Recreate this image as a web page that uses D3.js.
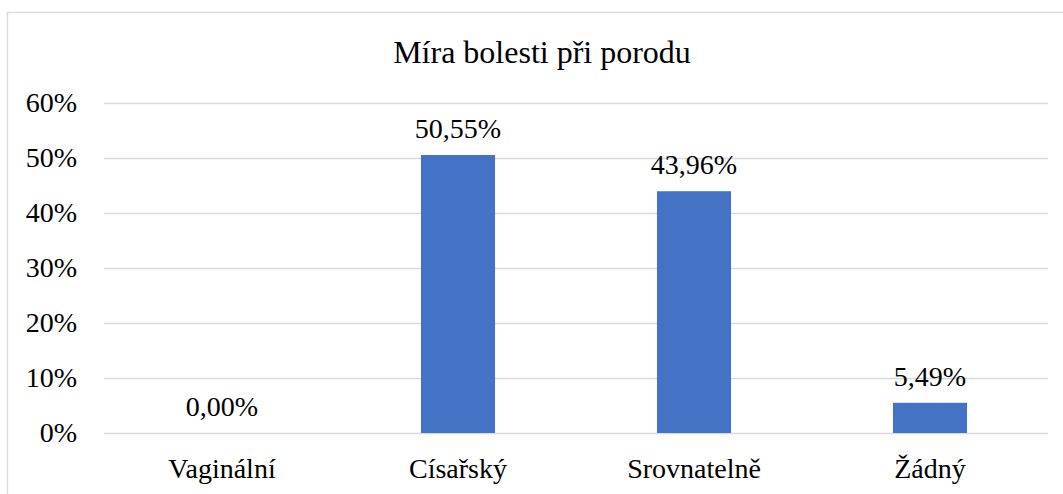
<!DOCTYPE html>
<html>
<head>
<meta charset="utf-8">
<script src="https://cdn.jsdelivr.net/npm/d3@7"></script>
<style>
  html, body { margin: 0; padding: 0; background: #fff; }
  svg { display: block; }
</style>
</head>
<body>
<svg id="chart"></svg>
<script>
// chart data
var categories = ["Vaginální", "Císařský", "Srovnatelně", "Žádný"]
var values = [0.0, 50.55, 43.96, 5.49]
var yTicks = [0, 10, 20, 30, 40, 50, 60]
var title = "Míra bolesti při porodu"

var width = 1063, height = 494
var margin = {top: 103, right: 15, bottom: 61, left: 104}
var serif = "Liberation Serif, Times New Roman, serif"

var svg = d3.select("#chart")
    .attr("width", width)
    .attr("height", height)
    .attr("font-family", serif)

// outer chart frame
svg.append("rect")
    .attr("x", 7.5)
    .attr("y", 12.5)
    .attr("width", 1070)
    .attr("height", 520)
    .attr("fill", "none")
    .attr("stroke", "#d9d9d9")
    .attr("stroke-width", 1.3)

var x = d3.scaleBand()
    .domain(categories)
    .range([margin.left, width - margin.right])
    .paddingInner(0.686)
    .paddingOuter(0.343)

var y = d3.scaleLinear()
    .domain([0, 60])
    .range([height - margin.bottom, margin.top])

// gridlines + y labels
var yAxis = svg.append("g")
    .attr("transform", `translate(${margin.left},0)`)
    .call(d3.axisLeft(y)
        .tickValues(yTicks)
        .tickSize(-(width - margin.left - margin.right))
        .tickPadding(27)
        .tickFormat(d => d + "%"))
    .attr("font-family", serif)
    .attr("font-size", 28)
yAxis.select(".domain").remove()
yAxis.selectAll("line")
    .attr("stroke", "#d9d9d9")
    .attr("stroke-width", 1.5)
yAxis.selectAll("text")
    .attr("fill", "#000")

// bars
svg.append("g")
    .selectAll("rect")
    .data(values)
    .enter()
    .append("rect")
      .attr("x", (d, i) => x(categories[i]))
      .attr("width", x.bandwidth())
      .attr("y", d => y(d))
      .attr("height", d => y(0) - y(d))
      .attr("fill", "#4472C4")

// value labels
svg.append("g")
    .attr("font-family", serif)
    .selectAll("text")
    .data(values)
    .enter()
    .append("text")
      .attr("x", (d, i) => x(categories[i]) + x.bandwidth() / 2)
      .attr("y", d => y(d) - 17)
      .attr("text-anchor", "middle")
      .attr("font-size", 28)
      .attr("fill", "#000")
      .text(d => d.toFixed(2).replace(".", ",") + "%")

// category labels
var xAxis = svg.append("g")
    .attr("transform", `translate(0,${y(0)})`)
    .call(d3.axisBottom(x).tickSize(0).tickPadding(25))
    .attr("font-family", serif)
    .attr("font-size", 28)
xAxis.select(".domain").remove()
xAxis.selectAll("text")
    .attr("fill", "#000")

// title
svg.append("text")
    .attr("x", 542)
    .attr("y", 63)
    .attr("text-anchor", "middle")
    .attr("font-size", 32)
    .attr("fill", "#000")
    .text(title)
</script>
</body>
</html>
